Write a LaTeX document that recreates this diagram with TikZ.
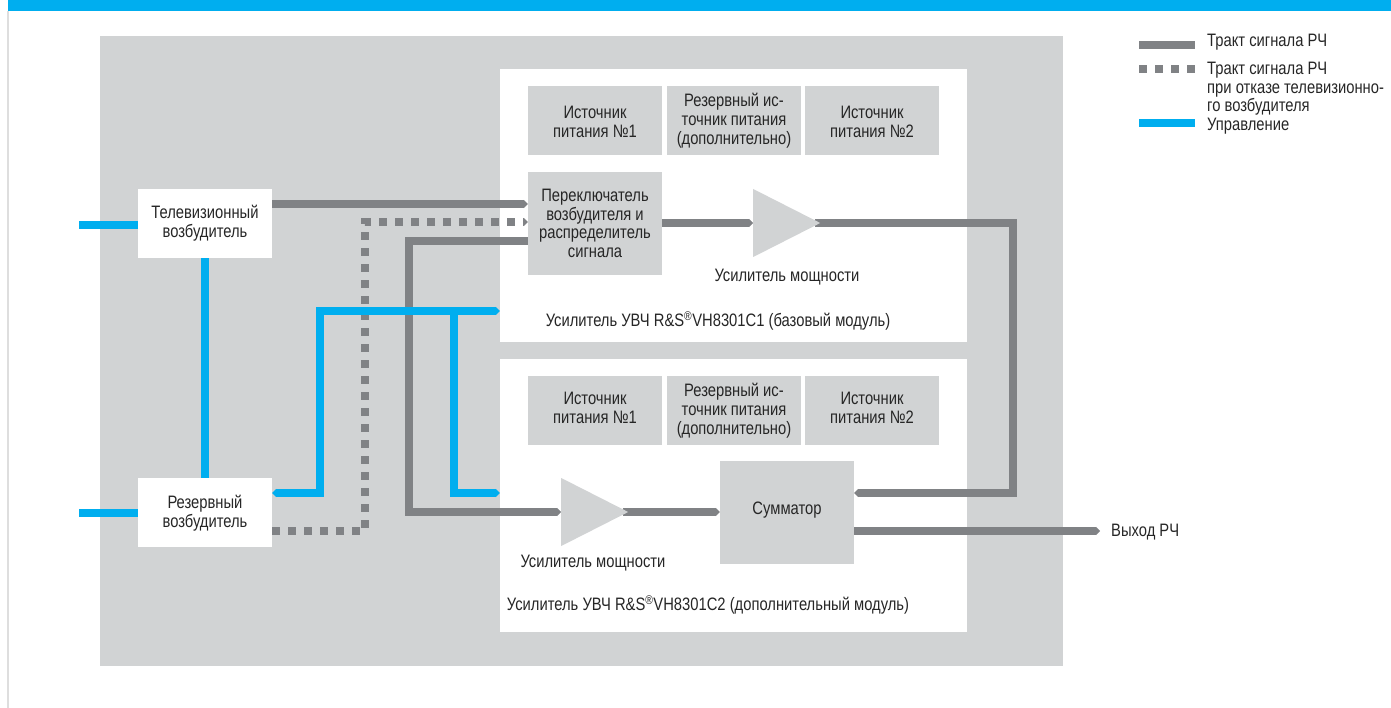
\documentclass[tikz,border=0pt]{standalone}
\usepackage{fontspec}
\setmainfont[FakeStretch=0.82]{Liberation Sans}
\usetikzlibrary{arrows.meta,shapes.geometric}
\definecolor{bluec}{HTML}{00AEEF}
\definecolor{lgray}{HTML}{D1D3D4}
\definecolor{dgray}{HTML}{808285}
\pgfdeclarelayer{base}
\pgfdeclarelayer{links}
\pgfsetlayers{base,links,main}
\tikzset{
  txt/.style={inner sep=0pt,align=center,text=black!85,font=\fontsize{18}{18.7}\selectfont},
  box/.style={txt,fill=lgray,minimum width=134pt,minimum height=69pt},
  whitebox/.style={box,fill=white},
  panel/.style={fill=white,inner sep=0pt,minimum width=467pt,minimum height=273pt},
  amp/.style={isosceles triangle,isosceles triangle stretches=true,shape border rotate=0,fill=lgray,inner sep=0pt,minimum width=68pt,minimum height=67pt,anchor=lower side},
  tipped/.style={-{Triangle[length=4pt,width=8pt]}},
  rf/.style={draw=dgray,line width=8pt},
  rfdot/.style={rf,dash pattern=on 8pt off 8pt},
  ctl/.style={draw=bluec,line width=8pt},
  legtxt/.style={txt,anchor=west,align=left}
}
\begin{document}
\begin{tikzpicture}[x=1pt,y=-1pt]
\useasboundingbox (0,0) rectangle (1391,708);
\begin{pgfonlayer}{base}
\fill[bluec] (8,0) rectangle (1391,11);
\fill[black!13] (7,11) rectangle (9,708);
\fill[lgray] (100,36) rectangle (1063,666);
\end{pgfonlayer}
% panels
\begin{pgfonlayer}{base}
\node[panel] (m1) at (733.5,205.5) {};
\node[panel] (m2) at (733.5,495.5) {};
\end{pgfonlayer}
% upper module
\node[box] (p11) at (595,120.5) {\rule{0pt}{15pt}Источник\\питания №1};
\node[box] (p12) at (734,120.5) {Резервный ис-\\точник питания\\(дополнительно)};
\node[box] (p13) at (872,120.5) {\rule{0pt}{15pt}Источник\\питания №2};
\node[box,minimum height=103pt] (sw) at (595,223.5) {Переключатель\\возбудителя и\\распределитель\\сигнала};
\node[amp] (amp1) at (753,223) {};
\node[txt] (amp1l) at (787,277) {Усилитель мощности};
\node[txt] (m1l) at (718,321) {Усилитель УВЧ R\&S\textsuperscript{®}VH8301C1 (базовый модуль)};
% lower module
\node[box] (p21) at (595,410.5) {Источник\\питания №1\rule[-6pt]{0pt}{6pt}};
\node[box] (p22) at (734,410.5) {Резервный ис-\\точник питания\\(дополнительно)};
\node[box] (p23) at (872,410.5) {Источник\\питания №2\rule[-6pt]{0pt}{6pt}};
\node[box,minimum height=103pt] (sum) at (787,512.5) {\raisebox{8pt}{Сумматор}};
\node[amp] (amp2) at (561,512) {};
\node[txt] (amp2l) at (593,563) {Усилитель мощности};
\node[txt] (m2l) at (708,605) {Усилитель УВЧ R\&S\textsuperscript{®}VH8301C2 (дополнительный модуль)};
% exciters
\node[whitebox] (tv) at (205,223.5) {Телевизионный\\возбудитель};
\node[whitebox] (res) at (205,512.5) {\rule{0pt}{15pt}Резервный\\возбудитель};
% free ends and turns
\coordinate (inA) at (79,225);
\coordinate (inB) at (79,513);
\coordinate (dotturn) at (365,222);
\coordinate (solidturn) at (409,241);
\coordinate (busL) at (320,311);
\coordinate (busM) at (454,311);
\coordinate (busLow) at (454,493);
\coordinate (rturn) at (1013,223);
\coordinate (rlow) at (1013,493);
\coordinate (outp) at (1100,531);
% RF connectors
\begin{pgfonlayer}{links}
\draw[rf,tipped] ([yshift=19.5pt]tv.east) -- ([yshift=19.5pt]sw.west);
\draw[rfdot,tipped] ([yshift=-18.5pt]res.east) -| (dotturn) -- (sw.west |- dotturn);
\draw[rf,tipped] (sw.west |- solidturn) -- (solidturn) |- (amp2.lower side);
\draw[rf,tipped] (sw.east |- amp1.lower side) -- (amp1.lower side);
\draw[rf,tipped] ([xshift=-6pt]amp1.apex) -- (rturn) -- (rlow) -- (sum.east |- rlow);
\draw[rf,tipped] ([xshift=-6pt]amp2.apex) -- (sum.west |- amp2.apex);
\draw[rf,tipped] (sum.east |- outp) -- (outp);
% control connectors
\draw[ctl] (inA) -- (tv.west |- inA);
\draw[ctl] (inB) -- (res.west |- inB);
\draw[ctl] (tv.south) -- (res.north);
\draw[ctl,{Triangle[length=4pt,width=8pt]}-{Triangle[length=4pt,width=8pt]}] (res.east |- busLow) -| (busL) -- (m1.west |- busL);
\draw[ctl,tipped] (busM) -- (busLow) -- (m2.west |- busLow);
\end{pgfonlayer}
\node[txt,anchor=west] (outl) at (1111,532) {Выход РЧ};
% legend
\coordinate (la1) at (1139,45); \coordinate (la2) at (1195,45);
\coordinate (lb1) at (1139,69); \coordinate (lb2) at (1195,69);
\coordinate (lc1) at (1139,123); \coordinate (lc2) at (1195,123);
\draw[rf] (la1) -- (la2);
\draw[rfdot] (lb1) -- (lb2);
\draw[ctl] (lc1) -- (lc2);
\node[legtxt] (lt1) at (1207,42) {Тракт сигнала РЧ};
\node[legtxt,anchor=north west] (lt2) at (1207,62) {Тракт сигнала РЧ\\при отказе телевизионно-\\го возбудителя};
\node[legtxt] (lt3) at (1207,126) {Управление};
\end{tikzpicture}
\end{document}
